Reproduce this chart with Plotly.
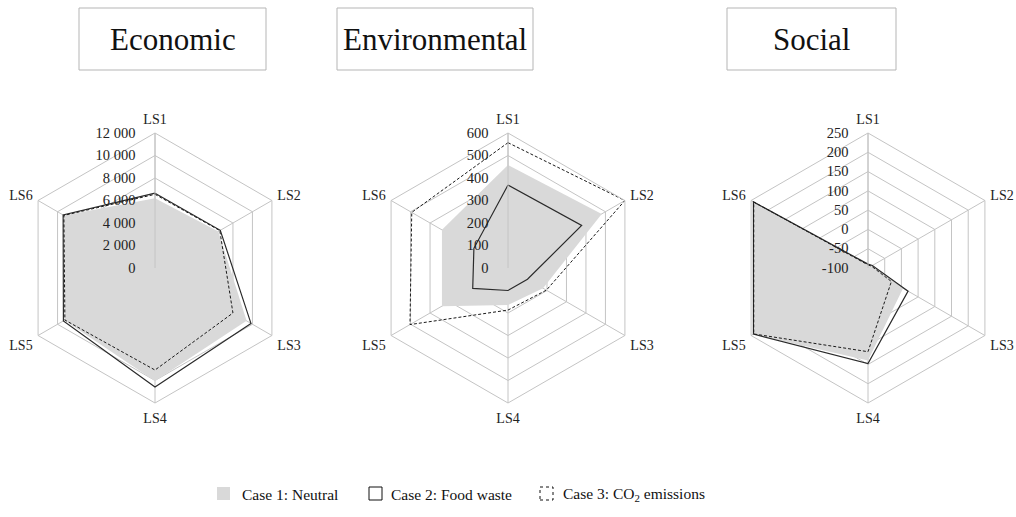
import plotly.graph_objects as go

# Axis categories (life-cycle stages) and panel titles
categories = ["LS1", "LS2", "LS3", "LS4", "LS5", "LS6"]
panel_titles = ["Economic", "Environmental", "Social"]
case_names = ["Case 1: Neutral", "Case 2: Food waste", "Case 3: CO<sub>2</sub> emissions"]

# Economic indicator per stage
economic_neutral = [6200, 6500, 9400, 10050, 9300, 9350]
economic_food_waste = [6650, 6700, 9850, 10580, 9400, 9430]
economic_co2 = [6550, 6650, 8000, 9070, 9250, 9350]

# Environmental indicator per stage
environmental_neutral = [458, 481, 180, 164, 339, 339]
environmental_food_waste = [369, 378, 100, 100, 181, 175]
environmental_co2 = [557, 600, 197, 187, 503, 494]

# Social indicator per stage
social_neutral = [-90, -88, 5, 140, 243, 243]
social_food_waste = [-90, -87, 20, 148, 243, 243]
social_co2 = [-92, -90, -30, 117, 242, 242]

# Radial ticks for each panel
economic_ticks = [0, 2000, 4000, 6000, 8000, 10000, 12000]
economic_ticktext = ["0", "2 000", "4 000", "6 000", "8 000", "10 000", "12 000"]
environmental_ticks = [0, 100, 200, 300, 400, 500, 600]
environmental_ticktext = ["0", "100", "200", "300", "400", "500", "600"]
social_ticks = [-100, -50, 0, 50, 100, 150, 200, 250]
social_ticktext = ["-100", "-50", "0", "50", "100", "150", "200", "250"]

W, H = 1016, 517
SERIF = "Liberation Serif, Times New Roman, serif"
GRID = "#c4c4c4"
FILL = "#d9d9d9"
CLEAR = "rgba(0,0,0,0)"

panels = [
    (economic_neutral, economic_food_waste, economic_co2, economic_ticks, economic_ticktext),
    (environmental_neutral, environmental_food_waste, environmental_co2, environmental_ticks, environmental_ticktext),
    (social_neutral, social_food_waste, social_co2, social_ticks, social_ticktext),
]

centers_x = [155, 508, 868]
center_y = 268
radius = 135

fig = go.Figure()


def closed(values):
    return list(values) + [values[0]]


theta = closed(categories)
layout_polars = {}
for i, (neutral, food, co2, ticks, ticktext) in enumerate(panels):
    key = "polar" if i == 0 else f"polar{i + 1}"
    fig.add_trace(go.Scatterpolar(
        r=closed(neutral), theta=theta, subplot=key, mode="none",
        fill="toself", fillcolor=FILL, name=case_names[0], showlegend=False,
    ))
    fig.add_trace(go.Scatterpolar(
        r=closed(food), theta=theta, subplot=key, mode="lines",
        line=dict(color="#2b2b2b", width=1.2), name=case_names[1], showlegend=False,
    ))
    fig.add_trace(go.Scatterpolar(
        r=closed(co2), theta=theta, subplot=key, mode="lines",
        line=dict(color="#1a1a1a", width=1, dash="3px,2px"), name=case_names[2], showlegend=False,
    ))
    cx = centers_x[i]
    layout_polars[key] = dict(
        domain=dict(
            x=[(cx - radius) / W, (cx + radius) / W],
            y=[1 - (center_y + radius) / H, 1 - (center_y - radius) / H],
        ),
        gridshape="linear",
        bgcolor="white",
        radialaxis=dict(
            range=[ticks[0], ticks[-1]],
            tickvals=ticks,
            ticktext=ticktext,
            angle=90,
            side="counterclockwise",
            tickangle=90,
            showline=True,
            linecolor=GRID,
            linewidth=1,
            gridcolor=GRID,
            gridwidth=1,
            # invisible ticks keep the labels clear of the axis
            ticks="outside",
            ticklen=14,
            tickcolor=CLEAR,
            tickfont=dict(family=SERIF, size=14.5, color="#222"),
        ),
        angularaxis=dict(
            type="category",
            categoryarray=categories,
            direction="clockwise",
            rotation=90,
            showline=True,
            linecolor=GRID,
            linewidth=1,
            gridcolor=GRID,
            gridwidth=1,
            ticks="outside",
            ticklen=3,
            tickcolor=CLEAR,
            tickfont=dict(family=SERIF, size=14, color="#222"),
        ),
    )

# Title boxes above each radar
title_boxes = [(79, 266), (337, 533), (727, 896)]
shapes = []
annotations = []
for (x0, x1), title in zip(title_boxes, panel_titles):
    shapes.append(dict(
        type="rect", xref="paper", yref="paper",
        x0=x0 / W, x1=x1 / W, y0=1 - 70 / H, y1=1 - 8 / H,
        line=dict(color="#b5b5b5", width=1), fillcolor="white",
    ))
    annotations.append(dict(
        text=title, xref="paper", yref="paper",
        x=(x0 + x1) / 2 / W, y=1 - 39 / H, showarrow=False,
        xanchor="center", yanchor="middle",
        font=dict(family=SERIF, size=31, color="#111"),
    ))

# Legend drawn as swatches with labels
legend_y0, legend_y1 = 487, 500
swatches = [
    (217, dict(line=dict(width=0), fillcolor=FILL)),
    (369, dict(line=dict(color="#111", width=1), fillcolor="white")),
    (540, dict(line=dict(color="#111", width=1, dash="3px,3px"), fillcolor="white")),
]
label_x = [240, 389, 561]
for (sx, style), lx, name in zip(swatches, label_x, case_names):
    shapes.append(dict(
        type="rect", xref="paper", yref="paper",
        x0=sx / W, x1=(sx + 13) / W, y0=1 - legend_y1 / H, y1=1 - legend_y0 / H,
        **style,
    ))
    annotations.append(dict(
        text=name, xref="paper", yref="paper",
        x=lx / W, y=1 - 494 / H, showarrow=False,
        xanchor="left", yanchor="middle",
        font=dict(family=SERIF, size=15.5, color="#111"),
    ))

fig.update_layout(
    width=W, height=H,
    margin=dict(l=0, r=0, t=0, b=0),
    paper_bgcolor="white",
    plot_bgcolor="white",
    showlegend=False,
    shapes=shapes,
    annotations=annotations,
    **layout_polars,
)

fig.write_html("out.html")
